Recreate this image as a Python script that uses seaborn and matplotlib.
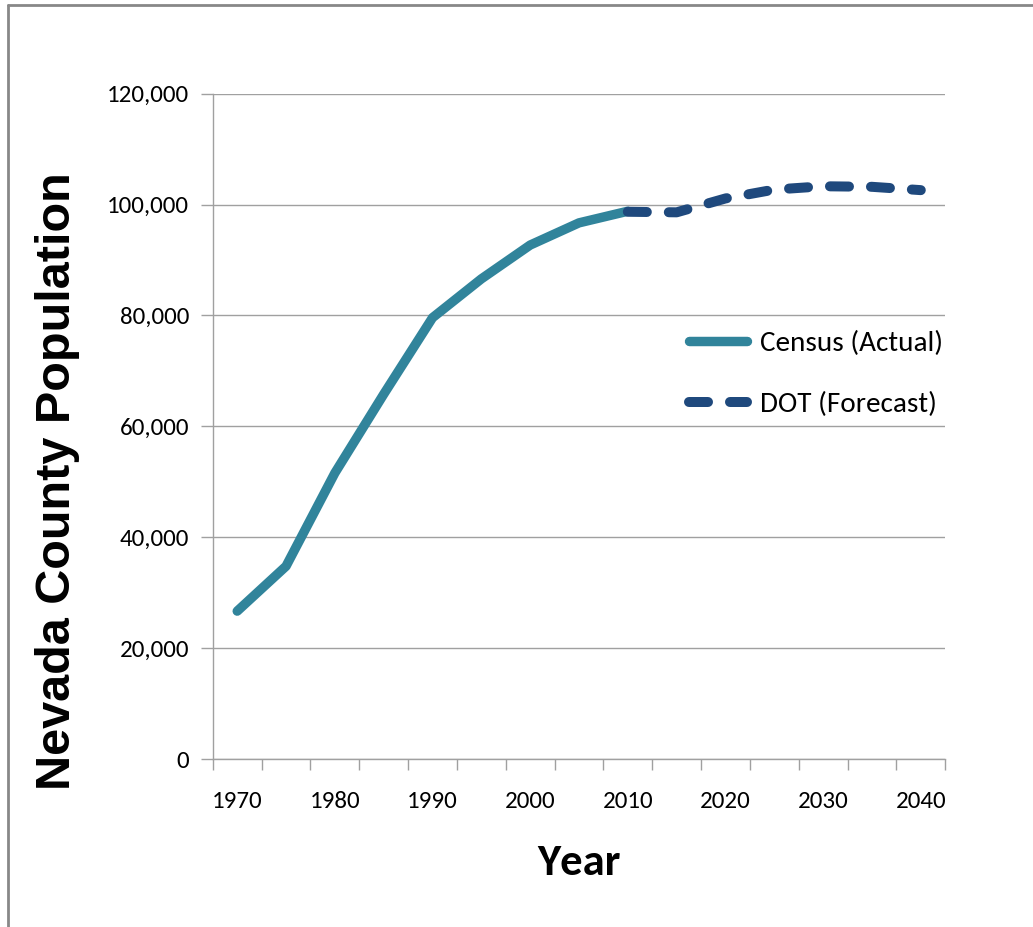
import matplotlib
matplotlib.use('Agg')
import matplotlib.pyplot as plt
from matplotlib.lines import Line2D
from matplotlib.ticker import FuncFormatter, MultipleLocator, FixedLocator
import seaborn as sns

census_years = [1970, 1975, 1980, 1985, 1990, 1995, 2000, 2005, 2010]
census_pop = [26700, 34800, 51600, 65800, 79600, 86600, 92700, 96700, 98800]

dot_years = [2010, 2015, 2020, 2025, 2030, 2035, 2040]
dot_pop = [98700, 98600, 101100, 102700, 103300, 103200, 102600]

x_labels = [1970, 1980, 1990, 2000, 2010, 2020, 2030, 2040]

sns.set_style('white')
plt.rcParams['font.family'] = ['Carlito', 'Liberation Sans Narrow',
	'Roboto Condensed', 'DejaVu Sans']
plt.rcParams['text.color'] = 'black'
plt.rcParams['axes.labelcolor'] = 'black'
plt.rcParams['xtick.color'] = 'black'
plt.rcParams['ytick.color'] = 'black'

fig, ax = plt.subplots(figsize=(10.33, 9.27), dpi=100)
fig.subplots_adjust(left=0.206, right=0.915, top=0.899, bottom=0.181)

sns.lineplot(x=census_years, y=census_pop, ax=ax, color='#31849b',
	linewidth=6.8, solid_capstyle='round', solid_joinstyle='round',
	label='Census (Actual)')
sns.lineplot(x=dot_years, y=dot_pop, ax=ax, color='#1f497d',
	linewidth=7.2, linestyle=(0, (1.9, 2.2)), dash_capstyle='round',
	dash_joinstyle='round', label='DOT (Forecast)')

ax.set_xlim(1967.5, 2042.5)
ax.set_ylim(0, 120000)
ax.yaxis.set_major_locator(MultipleLocator(20000))
ax.yaxis.set_major_formatter(FuncFormatter(lambda v, p: f'{int(v):,}'))
ax.xaxis.set_major_locator(FixedLocator(x_labels))
ax.xaxis.set_minor_locator(MultipleLocator(5, offset=2.5))
ax.tick_params(axis='x', which='major', length=0, pad=23, labelsize=18)
ax.tick_params(axis='x', which='minor', length=8, width=1, color='#a0a0a0',
	bottom=True)
ax.tick_params(axis='y', which='major', length=9, width=1, color='#a0a0a0',
	left=True, pad=8, labelsize=18)

ax.grid(axis='y', color='#a0a0a0', linewidth=1)
ax.grid(axis='x', visible=False)
for s in ['top', 'right']:
	ax.spines[s].set_visible(False)
for s in ['left', 'bottom']:
	ax.spines[s].set_color('#a0a0a0')
	ax.spines[s].set_linewidth(1)

ax.set_ylabel('Nevada County Population', fontsize=35, fontweight='bold',
	family=['Liberation Sans', 'DejaVu Sans'])
ax.yaxis.set_label_coords(-0.182, 0.418)
ax.set_xlabel('Year', fontsize=32, fontweight='bold')
ax.xaxis.set_label_coords(0.5, -0.128)

ax.legend(loc='center right', bbox_to_anchor=(1.033, 0.579), frameon=False,
	fontsize=21, handlelength=2.0, handletextpad=0.45, labelspacing=1.2)

fig.add_artist(Line2D([8 / 1033, 1], [1 - 5 / 927, 1 - 5 / 927],
	transform=fig.transFigure, color='#888888', linewidth=2))
fig.add_artist(Line2D([8 / 1033, 8 / 1033], [0, 1 - 5 / 927],
	transform=fig.transFigure, color='#888888', linewidth=2))

plt.savefig('out.png')
